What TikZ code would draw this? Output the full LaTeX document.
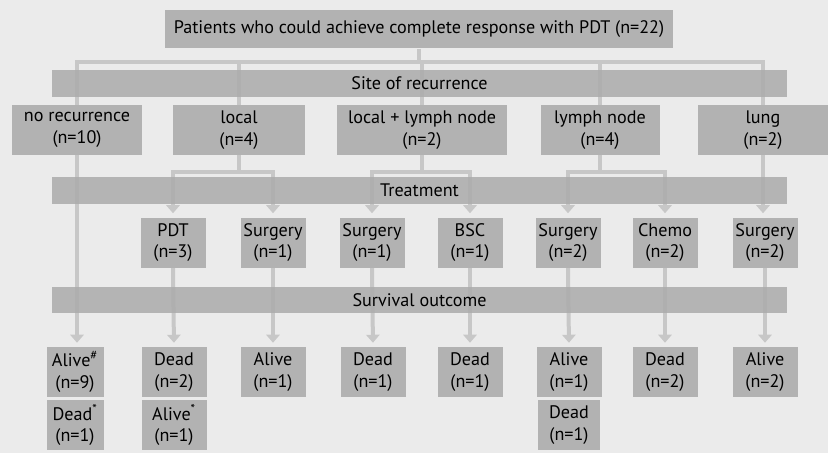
\documentclass[tikz,border=0pt]{standalone}
\usepackage{fontspec}
\setmainfont{PT Sans}
\usetikzlibrary{arrows.meta,backgrounds}

\begin{document}
\begin{tikzpicture}[x=0.75pt,y=-0.75pt,
        box/.style={fill=black!30,align=center,inner sep=0pt,minimum height=37.5pt,font=\fontsize{13.6}{16}\selectfont},
        smallbox/.style={box,minimum width=48.75pt},
        bar/.style={fill=black!33,fill opacity=.85,text opacity=1,inner sep=0pt,minimum width=551.25pt,minimum height=20pt,font=\fontsize{13.6}{16}\selectfont},
        link/.style={draw=black!22,line width=3pt},
        arr/.style={link,-{Triangle[width=10pt,length=6pt]},shorten >=3pt}]
        \useasboundingbox (0,0) rectangle (828,453);
        \begin{scope}[on background layer]
            \fill[black!8] (0,0) rectangle (828,453);
        \end{scope}
        
        \node[box,minimum width=381pt,minimum height=28.5pt] (top) at (419,29.5) {Patients who could achieve complete response with PDT (n=22)};
        \node[bar] (site) at (419.5,83.5) {Site of recurrence};
        \node[bar] (treat) at (419.5,190.5) {Treatment};
        \node[bar] (surv) at (419.5,300) {Survival outcome};
        
        % site of recurrence
        \node[box,minimum width=97.5pt] (norec) at (77,130) {no recurrence\\(n=10)};
        \node[box,minimum width=99pt] (local) at (239,130) {local\\(n=4)};
        \node[box,minimum width=127.5pt] (loclymph) at (422,130) {local + lymph node\\(n=2)};
        \node[box,minimum width=89.25pt] (lymph) at (600,130) {lymph node\\(n=4)};
        \node[box,minimum width=97.5pt] (lung) at (763,130) {lung\\(n=2)};
        
        % treatment
        \foreach \n/\x/\t in {pdt/173/{PDT\\(n=3)},surgA/273/{Surgery\\(n=1)},surgB/372/{Surgery\\(n=1)},bsc/470/{BSC\\(n=1)},surgC/568/{Surgery\\(n=2)},chemo/665/{Chemo\\(n=2)},surgD/765/{Surgery\\(n=2)}}
            \node[smallbox] (\n) at (\x,242.5) {\t};
        
        % survival outcome
        \node[box,minimum width=42.75pt] (aliveA) at (75,372) {Alive\textsuperscript{\#}\\(n=9)};
        \node[box,minimum width=42.75pt] (deadA) at (75,425) {Dead\textsuperscript{*}\\(n=1)};
        \foreach \n/\x/\t in {deadB/174/{Dead\\(n=2)},aliveB/273/{Alive\\(n=1)},deadC/373/{Dead\\(n=1)},deadD/470/{Dead\\(n=1)},aliveC/569/{Alive\\(n=1)},deadE/665/{Dead\\(n=2)},aliveD/765/{Alive\\(n=2)}}
            \node[smallbox] (\n) at (\x,372) {\t};
        \node[smallbox] (aliveE) at (174,425) {Alive\textsuperscript{*}\\(n=1)};
        \node[smallbox,minimum width=46.5pt] (deadF) at (569,425) {Dead\\(n=1)};
        
        \coordinate (lvA) at (0,62);
        \coordinate (lvB) at (0,172);
        
        \begin{scope}[on background layer]
            \draw[link] (top.south) -- (top.south |- lvA);
            \draw[link] (norec.north) |- (lung.north |- lvA) -- (lung.north);
            \foreach \n in {local,loclymph,lymph}
                \draw[link] (\n.north) -- (\n.north |- lvA);
            
            \draw[arr] (norec.south) -- (norec.south |- aliveA.north);
            \draw[arr] (lung.south) -- (lung.south |- surgD.north);
            \foreach \a/\b in {local/pdt,local/surgA,loclymph/surgB,loclymph/bsc,lymph/surgC,lymph/chemo}
                \draw[arr] (\a.south) |- (\b.north |- lvB) -- (\b.north);
            
            \foreach \a/\b in {pdt/deadB,surgA/aliveB,surgB/deadC,bsc/deadD,surgC/aliveC,chemo/deadE,surgD/aliveD}
                \draw[arr] (\a.south) -- (\b.north);
        \end{scope}
        
    \end{tikzpicture}
\end{document}
